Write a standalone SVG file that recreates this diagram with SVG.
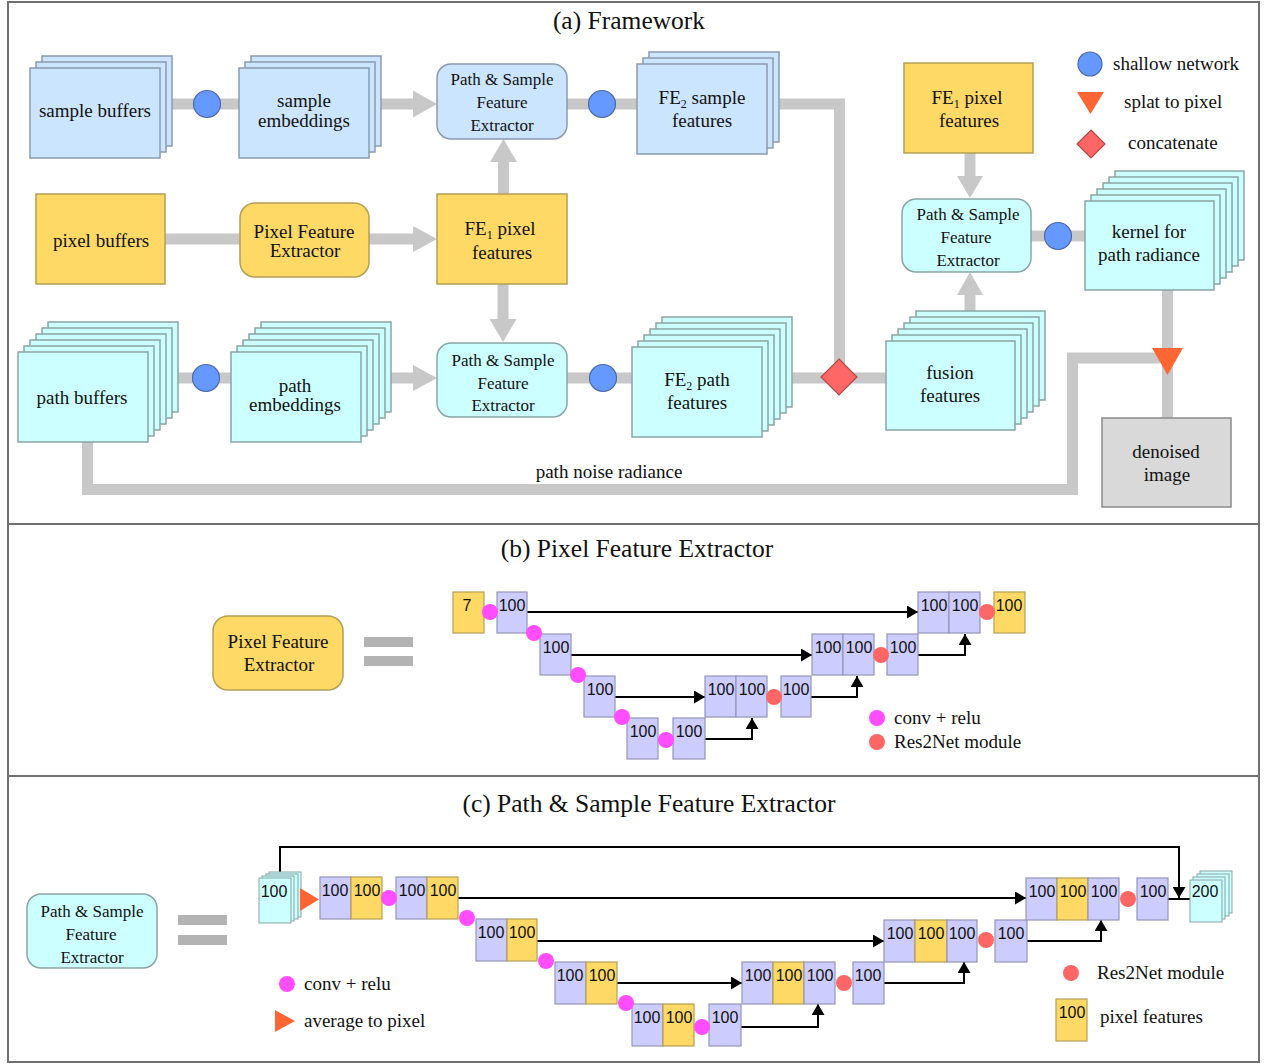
<svg xmlns="http://www.w3.org/2000/svg" width="1266" height="1064" viewBox="0 0 1266 1064">
<defs>
<style>
.frame{fill:none;stroke:#707070;stroke-width:2}
.band{stroke:#c8c8c8;stroke-width:11;fill:none;stroke-linejoin:miter;stroke-linecap:butt}
.ah{fill:#c8c8c8}
.blue{fill:#cce5ff;stroke:#8a9bb0;stroke-width:1.5}
.cyan{fill:#ccffff;stroke:#8aa5a5;stroke-width:1.5}
.yel{fill:#ffd966;stroke:#b39f55;stroke-width:1.5}
.gry{fill:#d9d9d9;stroke:#8a8a8a;stroke-width:1.5}
.net{fill:#6699ff;stroke:#4a6aa8;stroke-width:1.2}
.cat{fill:#ff6666;stroke:#b04848;stroke-width:1.2}
.splat{fill:#ff6633}
.t{font-family:"Liberation Serif","Times New Roman",serif;font-size:19px;text-anchor:middle;fill:#111}
.t17{font-family:"Liberation Serif","Times New Roman",serif;font-size:17px;text-anchor:middle;fill:#111}
.tl{font-family:"Liberation Serif","Times New Roman",serif;font-size:19px;fill:#111}
.title{font-family:"Liberation Serif","Times New Roman",serif;font-size:25.5px;text-anchor:middle;fill:#111}
.num{font-family:"Liberation Sans",Arial,sans-serif;font-size:16px;text-anchor:middle;fill:#111}
.pur{fill:#ccccff;stroke:#9494b8;stroke-width:1.2}
.yb{fill:#ffd966;stroke:#b39f55;stroke-width:1.2}
.cb{fill:#ccffff;stroke:#8aa5a5;stroke-width:1}
.pink{fill:#ff4dff}
.red{fill:#ff6666}
.blk{stroke:#000;stroke-width:2;fill:none;marker-end:url(#arr)}
.blk0{stroke:#000;stroke-width:2;fill:none}
.eq{fill:#b3b3b3}
</style>
<marker id="arr" viewBox="0 0 10 10" refX="10" refY="5" markerWidth="11" markerHeight="13" markerUnits="userSpaceOnUse" orient="auto" preserveAspectRatio="none"><path d="M0,0 L10,5 L0,10 z" fill="#000"/></marker>
</defs>
<rect width="1266" height="1064" fill="#fff"/>
<!-- frames -->
<rect class="frame" x="8" y="2" width="1251" height="522"/>
<rect class="frame" x="8" y="524" width="1251" height="252"/>
<rect class="frame" x="8" y="776" width="1251" height="286"/>
<text class="title" x="629" y="29">(a) Framework</text>
<text class="title" x="637" y="557">(b) Pixel Feature Extractor</text>
<text class="title" x="649" y="812">(c) Path &amp; Sample Feature Extractor</text>

<!-- connectors panel (a) -->
<g id="connectors-a">
<line class="band" x1="160" y1="104" x2="239" y2="104"/>
<line class="band" x1="369" y1="104" x2="415" y2="104"/>
<polygon class="ah" points="413,90.5 437,104 413,117.5"/>
<line class="band" x1="567" y1="104" x2="637" y2="104"/>
<polyline class="band" points="766,104 839.5,104 839.5,378"/>
<line class="band" x1="165" y1="239" x2="240" y2="239"/>
<line class="band" x1="369" y1="239" x2="415" y2="239"/>
<polygon class="ah" points="413,226 437,239 413,252"/>
<line class="band" x1="503.5" y1="194" x2="503.5" y2="160"/>
<polygon class="ah" points="490,162 503.5,139 517,162"/>
<line class="band" x1="503" y1="284" x2="503" y2="321"/>
<polygon class="ah" points="489.5,319 503,342 516.5,319"/>
<line class="band" x1="148" y1="378" x2="231" y2="378"/>
<line class="band" x1="360" y1="378" x2="415" y2="378"/>
<polygon class="ah" points="413,365 437,378 413,391"/>
<line class="band" x1="567" y1="378" x2="632" y2="378"/>
<line class="band" x1="762" y1="378" x2="886" y2="378"/>
<line class="band" x1="970" y1="153" x2="970" y2="178"/>
<polygon class="ah" points="957,176 970,198 983,176"/>
<line class="band" x1="970" y1="341" x2="970" y2="293"/>
<polygon class="ah" points="957,295 970,272 983,295"/>
<line class="band" x1="1031" y1="236" x2="1085" y2="236"/>
<line class="band" x1="1167.5" y1="290" x2="1167.5" y2="418"/>
<polyline class="band" points="87.5,442 87.5,489.5 1072.5,489.5 1072.5,358 1160,358"/>
<text class="t" x="609" y="478">path noise radiance</text>
</g>

<!-- nodes panel (a) -->
<g id="sample-buffers">
<rect class="blue" x="42" y="56" width="130" height="90"/>
<rect class="blue" x="36" y="62" width="130" height="90"/>
<rect class="blue" x="30" y="68" width="130" height="90"/>
<text class="t" x="95" y="117">sample buffers</text>
</g>
<g id="sample-embeddings">
<rect class="blue" x="251" y="56" width="130" height="90"/>
<rect class="blue" x="245" y="62" width="130" height="90"/>
<rect class="blue" x="239" y="68" width="130" height="90"/>
<text class="t" x="304" y="107">sample</text>
<text class="t" x="304" y="127">embeddings</text>
</g>
<g id="psfe-sample">
<rect class="blue" x="437" y="64" width="130" height="75" rx="14"/>
<text class="t17" x="502" y="85">Path &amp; Sample</text>
<text class="t17" x="502" y="108">Feature</text>
<text class="t17" x="502" y="131">Extractor</text>
</g>
<g id="fe2-sample-features">
<rect class="blue" x="649" y="52" width="130" height="90"/>
<rect class="blue" x="643" y="58" width="130" height="90"/>
<rect class="blue" x="637" y="64" width="130" height="90"/>
<text class="t" x="702" y="104">FE<tspan font-size="12" dy="4">2</tspan><tspan dy="-4"> sample</tspan></text>
<text class="t" x="702" y="127">features</text>
</g>
<g id="pixel-buffers">
<rect class="yel" x="36" y="194" width="129" height="90"/>
<text class="t" x="101" y="247">pixel buffers</text>
</g>
<g id="pixel-feature-extractor-a">
<rect class="yel" x="240" y="203" width="129" height="74" rx="15"/>
<text class="t" x="304" y="238">Pixel Feature</text>
<text class="t" x="305" y="257">Extractor</text>
</g>
<g id="fe1-pixel-features">
<rect class="yel" x="437" y="194" width="130" height="90"/>
<text class="t" x="500" y="235">FE<tspan font-size="12" dy="4">1</tspan><tspan dy="-4"> pixel</tspan></text>
<text class="t" x="502" y="259">features</text>
</g>
<g id="path-buffers">
<rect class="cyan" x="48" y="322" width="130" height="90"/>
<rect class="cyan" x="42" y="328" width="130" height="90"/>
<rect class="cyan" x="36" y="334" width="130" height="90"/>
<rect class="cyan" x="30" y="340" width="130" height="90"/>
<rect class="cyan" x="24" y="346" width="130" height="90"/>
<rect class="cyan" x="18" y="352" width="130" height="90"/>
<text class="t" x="82" y="404">path buffers</text>
</g>
<g id="path-embeddings">
<rect class="cyan" x="261" y="322" width="130" height="90"/>
<rect class="cyan" x="255" y="328" width="130" height="90"/>
<rect class="cyan" x="249" y="334" width="130" height="90"/>
<rect class="cyan" x="243" y="340" width="130" height="90"/>
<rect class="cyan" x="237" y="346" width="130" height="90"/>
<rect class="cyan" x="231" y="352" width="130" height="90"/>
<text class="t" x="295" y="392">path</text>
<text class="t" x="295" y="411">embeddings</text>
</g>
<g id="psfe-path">
<rect class="cyan" x="437" y="343" width="130" height="74" rx="14"/>
<text class="t17" x="503" y="366">Path &amp; Sample</text>
<text class="t17" x="503" y="389">Feature</text>
<text class="t17" x="503" y="411">Extractor</text>
</g>
<g id="fe2-path-features">
<rect class="cyan" x="662" y="317" width="130" height="90"/>
<rect class="cyan" x="656" y="323" width="130" height="90"/>
<rect class="cyan" x="650" y="329" width="130" height="90"/>
<rect class="cyan" x="644" y="335" width="130" height="90"/>
<rect class="cyan" x="638" y="341" width="130" height="90"/>
<rect class="cyan" x="632" y="347" width="130" height="90"/>
<text class="t" x="697" y="386">FE<tspan font-size="12" dy="4">2</tspan><tspan dy="-4"> path</tspan></text>
<text class="t" x="697" y="409">features</text>
</g>
<g id="fe1-pixel-features-right">
<rect class="yel" x="904" y="63" width="129" height="90"/>
<text class="t" x="967" y="104">FE<tspan font-size="12" dy="4">1</tspan><tspan dy="-4"> pixel</tspan></text>
<text class="t" x="969" y="127">features</text>
</g>
<g id="psfe-fusion">
<rect class="cyan" x="902" y="199" width="129" height="73" rx="14"/>
<text class="t17" x="968" y="220">Path &amp; Sample</text>
<text class="t17" x="966" y="243">Feature</text>
<text class="t17" x="968" y="266">Extractor</text>
</g>
<g id="fusion-features">
<rect class="cyan" x="916" y="311" width="129" height="89"/>
<rect class="cyan" x="910" y="317" width="129" height="89"/>
<rect class="cyan" x="904" y="323" width="129" height="89"/>
<rect class="cyan" x="898" y="329" width="129" height="89"/>
<rect class="cyan" x="892" y="335" width="129" height="89"/>
<rect class="cyan" x="886" y="341" width="129" height="89"/>
<text class="t" x="950" y="379">fusion</text>
<text class="t" x="950" y="402">features</text>
</g>
<g id="kernel">
<rect class="cyan" x="1115" y="171" width="129" height="89"/>
<rect class="cyan" x="1109" y="177" width="129" height="89"/>
<rect class="cyan" x="1103" y="183" width="129" height="89"/>
<rect class="cyan" x="1097" y="189" width="129" height="89"/>
<rect class="cyan" x="1091" y="195" width="129" height="89"/>
<rect class="cyan" x="1085" y="201" width="129" height="89"/>
<text class="t" x="1149" y="238">kernel for</text>
<text class="t" x="1149" y="261">path radiance</text>
</g>
<g id="denoised-image">
<rect class="gry" x="1102" y="418" width="129" height="89"/>
<text class="t" x="1166" y="458">denoised</text>
<text class="t" x="1167" y="481">image</text>
</g>
<g id="operators-a">
<circle class="net" cx="207" cy="104" r="13.5"/>
<circle class="net" cx="602" cy="104" r="13.5"/>
<circle class="net" cx="206" cy="378" r="13.5"/>
<circle class="net" cx="603" cy="378" r="13.5"/>
<circle class="net" cx="1058" cy="236" r="13.5"/>
<polygon class="cat" points="839,359 857,377 839,395 821,377"/>
<polygon class="splat" points="1152,348 1183,348 1167.5,375"/>
</g>
<g id="legend-a">
<circle class="net" cx="1090" cy="64" r="12"/>
<text class="tl" x="1113" y="70">shallow network</text>
<polygon class="splat" points="1077,92 1104,92 1090.5,114"/>
<text class="tl" x="1124" y="108">splat to pixel</text>
<polygon class="cat" points="1091,130 1105,144 1091,158 1077,144"/>
<text class="tl" x="1128" y="149">concatenate</text>
</g>

<!-- panel (b) -->
<g id="pfe-b">
<rect class="yel" x="213" y="616" width="130" height="74" rx="15"/>
<text class="t" x="278" y="648">Pixel Feature</text>
<text class="t" x="279" y="671">Extractor</text>
</g>
<g id="eq-b">
<rect class="eq" x="364" y="637" width="49" height="10"/>
<rect class="eq" x="364" y="656" width="49" height="10"/>
</g>
<g id="connectors-b">
<line class="blk" x1="527" y1="612" x2="918" y2="612"/>
<line class="blk" x1="571" y1="655" x2="812" y2="655"/>
<line class="blk" x1="615" y1="697" x2="705" y2="697"/>
<polyline class="blk" points="705,739 752,739 752,718"/>
<polyline class="blk" points="811,697 857,697 857,676"/>
<polyline class="blk" points="918,655 965,655 965,634"/>
</g>
<g id="unet-b">
<rect class="yb" x="453" y="592" width="31" height="41"/><text class="num" x="467" y="611">7</text>
<rect class="pur" x="497" y="592" width="30" height="41"/><text class="num" x="512" y="611">100</text>
<rect class="pur" x="540" y="634" width="31" height="41"/><text class="num" x="556" y="653">100</text>
<rect class="pur" x="584" y="676" width="31" height="41"/><text class="num" x="600" y="695">100</text>
<rect class="pur" x="627" y="718" width="31" height="41"/><text class="num" x="643" y="737">100</text>
<rect class="pur" x="673" y="718" width="32" height="41"/><text class="num" x="689" y="737">100</text>
<rect class="pur" x="705" y="676" width="31" height="41"/><text class="num" x="721" y="695">100</text>
<rect class="pur" x="736" y="676" width="31" height="41"/><text class="num" x="752" y="695">100</text>
<rect class="pur" x="781" y="676" width="30" height="41"/><text class="num" x="796" y="695">100</text>
<rect class="pur" x="812" y="634" width="31" height="41"/><text class="num" x="828" y="653">100</text>
<rect class="pur" x="843" y="634" width="31" height="41"/><text class="num" x="859" y="653">100</text>
<rect class="pur" x="887" y="634" width="31" height="41"/><text class="num" x="903" y="653">100</text>
<rect class="pur" x="918" y="592" width="31" height="41"/><text class="num" x="934" y="611">100</text>
<rect class="pur" x="949" y="592" width="31" height="41"/><text class="num" x="965" y="611">100</text>
<rect class="yb" x="994" y="592" width="31" height="41"/><text class="num" x="1009" y="611">100</text>
<circle class="pink" cx="490" cy="612" r="8"/>
<circle class="pink" cx="534" cy="633" r="8"/>
<circle class="pink" cx="578" cy="675" r="8"/>
<circle class="pink" cx="622" cy="717" r="8"/>
<circle class="pink" cx="666" cy="740" r="8"/>
<circle class="red" cx="774" cy="697" r="8"/>
<circle class="red" cx="881" cy="655" r="8"/>
<circle class="red" cx="987" cy="612" r="8"/>
</g>
<g id="legend-b">
<circle class="pink" cx="877" cy="718" r="8"/>
<text class="tl" x="894" y="724">conv + relu</text>
<circle class="red" cx="877" cy="742" r="8"/>
<text class="tl" x="894" y="748">Res2Net module</text>
</g>

<!-- panel (c) -->
<g id="psfe-c">
<rect class="cyan" x="27" y="894" width="130" height="74" rx="14"/>
<text class="t17" x="92" y="917">Path &amp; Sample</text>
<text class="t17" x="91" y="940">Feature</text>
<text class="t17" x="92" y="963">Extractor</text>
</g>
<g id="eq-c">
<rect class="eq" x="178" y="915" width="49" height="10"/>
<rect class="eq" x="178" y="935" width="49" height="10"/>
</g>
<g id="connectors-c">
<polyline class="blk" points="280,872 280,847 1179,847 1179,898"/>
<line class="blk0" x1="1168" y1="899" x2="1190" y2="899"/>
<line class="blk" x1="458" y1="898" x2="1026" y2="898"/>
<line class="blk" x1="537" y1="941" x2="884" y2="941"/>
<line class="blk" x1="617" y1="983" x2="742" y2="983"/>
<polyline class="blk" points="741,1027 818,1027 818,1004"/>
<polyline class="blk" points="884,983 964,983 964,962"/>
<polyline class="blk" points="1027,941 1101,941 1101,920"/>
</g>
<g id="unet-c">
<rect class="cb" x="269" y="872" width="32" height="45"/>
<rect class="cb" x="266" y="874" width="32" height="45"/>
<rect class="cb" x="262" y="876" width="32" height="45"/>
<rect class="cb" x="259" y="878" width="32" height="45"/>
<text class="num" x="274" y="897">100</text>
<polygon class="splat" points="300,888 319,899.5 300,911"/>
<rect class="pur" x="320" y="877" width="31" height="42"/><text class="num" x="335" y="896">100</text>
<rect class="yb" x="351" y="877" width="31" height="42"/><text class="num" x="367" y="896">100</text>
<rect class="pur" x="396" y="877" width="31" height="42"/><text class="num" x="412" y="896">100</text>
<rect class="yb" x="427" y="877" width="31" height="42"/><text class="num" x="443" y="896">100</text>
<rect class="pur" x="476" y="919" width="31" height="42"/><text class="num" x="491" y="938">100</text>
<rect class="yb" x="507" y="919" width="30" height="42"/><text class="num" x="522" y="938">100</text>
<rect class="pur" x="555" y="962" width="31" height="42"/><text class="num" x="570" y="981">100</text>
<rect class="yb" x="586" y="962" width="31" height="42"/><text class="num" x="602" y="981">100</text>
<rect class="pur" x="632" y="1004" width="31" height="42"/><text class="num" x="647" y="1023">100</text>
<rect class="yb" x="663" y="1004" width="31" height="42"/><text class="num" x="679" y="1023">100</text>
<rect class="pur" x="709" y="1004" width="32" height="42"/><text class="num" x="725" y="1023">100</text>
<rect class="pur" x="742" y="962" width="31" height="42"/><text class="num" x="758" y="981">100</text>
<rect class="yb" x="773" y="962" width="31" height="42"/><text class="num" x="789" y="981">100</text>
<rect class="pur" x="804" y="962" width="31" height="42"/><text class="num" x="820" y="981">100</text>
<rect class="pur" x="853" y="962" width="31" height="42"/><text class="num" x="868" y="981">100</text>
<rect class="pur" x="884" y="920" width="31" height="42"/><text class="num" x="900" y="939">100</text>
<rect class="yb" x="915" y="920" width="32" height="42"/><text class="num" x="931" y="939">100</text>
<rect class="pur" x="947" y="920" width="30" height="42"/><text class="num" x="962" y="939">100</text>
<rect class="pur" x="995" y="920" width="32" height="42"/><text class="num" x="1011" y="939">100</text>
<rect class="pur" x="1026" y="878" width="31" height="42"/><text class="num" x="1042" y="897">100</text>
<rect class="yb" x="1057" y="878" width="31" height="42"/><text class="num" x="1073" y="897">100</text>
<rect class="pur" x="1088" y="878" width="31" height="42"/><text class="num" x="1104" y="897">100</text>
<rect class="pur" x="1137" y="878" width="31" height="42"/><text class="num" x="1153" y="897">100</text>
<rect class="cb" x="1200" y="871" width="32" height="42"/>
<rect class="cb" x="1197" y="874" width="32" height="42"/>
<rect class="cb" x="1193" y="877" width="32" height="42"/>
<rect class="cb" x="1190" y="880" width="32" height="42"/>
<text class="num" x="1205" y="897">200</text>
<circle class="pink" cx="389" cy="898" r="8"/>
<circle class="pink" cx="467" cy="918" r="8"/>
<circle class="pink" cx="546" cy="961" r="8"/>
<circle class="pink" cx="626" cy="1003" r="8"/>
<circle class="pink" cx="702" cy="1027" r="8"/>
<circle class="red" cx="844" cy="983" r="8"/>
<circle class="red" cx="986" cy="940" r="8"/>
<circle class="red" cx="1128" cy="899" r="8"/>
</g>
<g id="legend-c">
<circle class="pink" cx="287" cy="984" r="8"/>
<text class="tl" x="304" y="990">conv + relu</text>
<polygon class="splat" points="275,1010 295,1021 275,1032"/>
<text class="tl" x="304" y="1027">average to pixel</text>
<circle class="red" cx="1071" cy="973" r="8"/>
<text class="tl" x="1097" y="979">Res2Net module</text>
<rect class="yb" x="1056" y="999" width="31" height="42"/><text class="num" x="1072" y="1018">100</text>
<text class="tl" x="1100" y="1023">pixel features</text>
</g>
</svg>
